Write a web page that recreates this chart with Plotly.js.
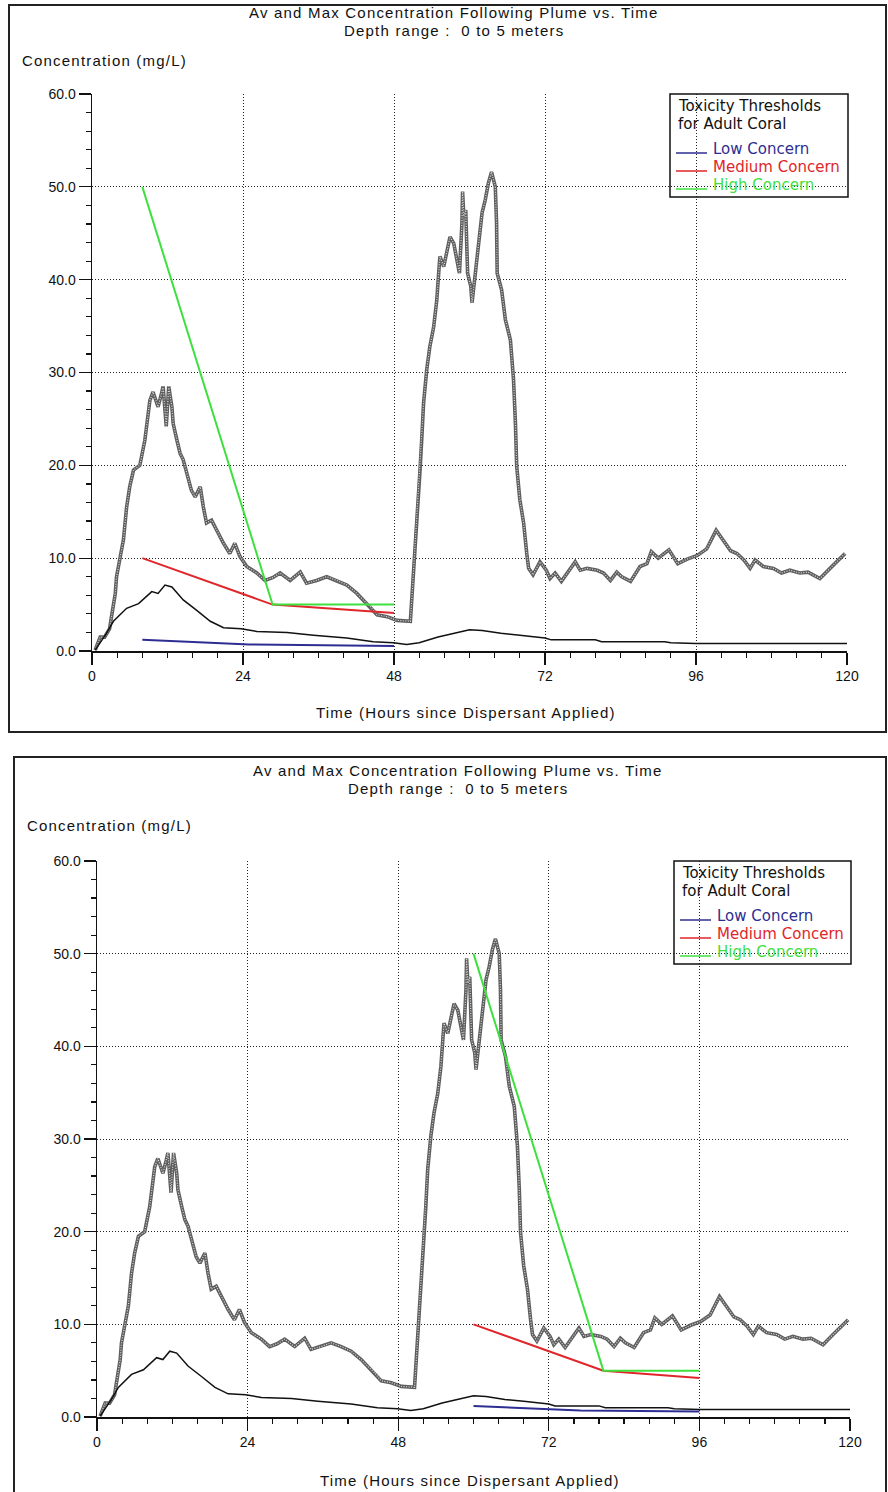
<!DOCTYPE html>
<html>
<head>
<meta charset="utf-8">
<script src="https://cdn.plot.ly/plotly-3.0.1.min.js"></script>
<style>html,body{margin:0;padding:0;background:#fff;}#chart{width:888px;height:1492px;}</style>
</head>
<body>
<div id="chart"></div>
<script>
// ---------- data ----------
const maxTime = [0.5,1.3,2.0,2.8,3.1,3.7,3.9,4.5,5.0,5.5,6.0,6.6,7.6,8.4,9.2,9.7,10.5,11.0,11.3,11.8,12.2,12.7,12.9,13.5,14.0,14.5,15.1,15.8,16.4,17.2,17.7,18.2,19.0,19.8,20.9,21.9,22.7,23.5,24.6,26.2,27.5,28.7,29.9,31.5,33.1,34.1,35.7,37.3,38.9,40.5,42.1,43.1,44.2,45.3,46.9,48.5,50.6,50.8,51.1,51.3,51.6,52.1,52.4,52.7,53.2,53.7,54.3,54.8,55.1,55.3,55.9,56.4,56.9,57.5,58.0,58.4,58.8,58.9,59.1,59.4,59.7,60.2,60.4,60.9,61.4,62.0,62.5,63.0,63.5,64.1,64.3,64.4,65.1,65.7,66.5,67.0,67.3,67.5,68.0,68.6,69.1,69.4,70.1,71.2,72.2,72.8,73.6,74.6,76.8,77.6,78.7,80.3,81.3,82.4,83.4,84.2,85.6,87.1,88.2,88.9,90.0,91.7,93.1,94.6,96.2,97.7,99.2,100.2,101.5,102.5,103.6,104.6,105.4,106.7,108.3,109.6,110.9,112.5,113.8,114.6,115.7,117.3,118.4,119.7];
const maxConc = [0.1,1.5,1.5,2.4,3.7,6.2,8.0,10.2,12.0,15.5,17.7,19.5,20.0,22.7,27.0,27.9,26.3,27.6,28.5,24.2,28.5,26.3,24.5,22.7,21.3,20.6,19.1,17.3,16.6,17.7,15.5,13.8,14.1,13.0,11.6,10.5,11.6,10.2,9.1,8.4,7.6,7.9,8.4,7.6,8.5,7.3,7.6,8.0,7.6,7.1,6.2,5.5,4.8,3.9,3.7,3.3,3.2,5.2,8.4,11.3,13.8,19.1,22.7,26.7,30.3,32.8,34.9,37.8,40.7,42.5,41.4,43.2,44.6,43.9,42.1,40.7,46.1,49.5,46.8,47.5,40.7,39.3,37.5,40.4,43.2,47.2,48.6,50.4,51.6,50.0,46.1,40.7,38.9,35.7,33.5,29.2,24.5,19.9,16.3,13.8,10.5,8.9,8.2,9.6,8.7,7.8,8.4,7.5,9.6,8.7,8.9,8.7,8.4,7.6,8.5,8.0,7.5,9.1,9.4,10.7,10.0,10.9,9.4,9.9,10.3,11.0,13.0,12.1,10.8,10.5,9.8,8.9,9.8,9.1,8.9,8.4,8.7,8.4,8.5,8.2,7.8,8.9,9.6,10.5];

const avgTime = [0.5,2.3,3.4,5.5,7.4,9.5,10.5,11.6,12.7,14.5,16.6,18.8,20.9,23.7,26.2,31,35.2,40.5,44.7,47.9,50.0,52,55,58,60,62,65,68,72,73,80,81,91,92,96,120];
const avgConc = [0.1,1.9,3.2,4.6,5.1,6.4,6.2,7.1,6.9,5.5,4.4,3.2,2.5,2.4,2.1,2.0,1.7,1.4,1.0,0.9,0.7,0.9,1.5,2.0,2.3,2.2,1.9,1.7,1.4,1.2,1.2,1.0,1.0,0.9,0.8,0.8];

// thresholds, panel 1 (exposure starting at hour 8)
const lowTime1 = [8,11,18,25,48];
const lowConc1 = [1.2,1.1,0.9,0.7,0.55];
const medTime1 = [8,28.7,48];
const medConc1 = [10,5,4.1];
const highTime1 = [8,28.7,48];
const highConc1 = [50,5,5];
// thresholds, panel 2 (exposure starting at hour 60)
const lowTime2 = [60,63,70,77,96];
const lowConc2 = [1.2,1.1,0.9,0.7,0.6];
const medTime2 = [60,80.7,96];
const medConc2 = [10,5,4.2];
const highTime2 = [60,80.7,96];
const highConc2 = [50,5,5];

const xTicks = [0,24,48,72,96,120];
const yTicks = [0,10,20,30,40,50,60];
const yTickText = yTicks.map(v => v.toFixed(1));

const titleLine1 = "Av and Max Concentration Following Plume vs. Time";
const titleLine2 = "Depth range :  0 to 5 meters";
const yTitle = "Concentration (mg/L)";
const xTitle = "Time (Hours since Dispersant Applied)";
const legendHead = ["Toxicity Thresholds", "for Adult Coral"];
const legendNames = ["Low Concern", "Medium Concern", "High Concern"];

// ---------- layout helpers ----------
const W = 888, H = 1492;
const PX = x => x / W;
const PY = y => 1 - y / H;
const COLORS = { low: '#2e2e92', med: '#e0262a', high: '#3ee03e' };
const TITLE_FONT = { family: 'Liberation Sans, Arial, sans-serif', size: 15, color: '#111' };
const LEG_FONT = { family: 'DejaVu Sans, Verdana, sans-serif', size: 15 };
const sp = t => '<span style="letter-spacing:1.2px">' + t + '</span>';

const panels = [
  { frameL: 9, frameT: 5, frameB: 732, ax0: 92, ax1: 847, ayTop: 94, ayBot: 651,
    t1: 13, t2: 30, yl: 60, ylx: 20, xl: 713, xlx: 466, tx: 454, lx: 670, lr: 848, ly: 94,
    low: [lowTime1, lowConc1], med: [medTime1, medConc1], high: [highTime1, highConc1] },
  { frameL: 14, frameT: 757, frameB: 1500, ax0: 97, ax1: 850, ayTop: 861, ayBot: 1417,
    t1: 771, t2: 788, yl: 825, ylx: 25, xl: 1480, xlx: 470, tx: 458, lx: 674, lr: 851, ly: 861,
    low: [lowTime2, lowConc2], med: [medTime2, medConc2], high: [highTime2, highConc2] }
];

const data = [];
const layout = {
  width: W, height: H, margin: { l: 0, r: 0, t: 0, b: 0 },
  paper_bgcolor: '#fff', plot_bgcolor: 'rgba(0,0,0,0)',
  showlegend: false, annotations: [], shapes: []
};

panels.forEach((p, i) => {
  const n = i === 0 ? '' : '2';
  const xa = 'x' + n, ya = 'y' + n;

  const axisCommon = {
    tickmode: 'array', ticks: 'outside', ticklen: 12, tickwidth: 1.2, tickcolor: '#111',
    showgrid: true, gridcolor: '#222', griddash: '1px,2px', gridwidth: 1,
    showline: true, linecolor: '#111', linewidth: 1.5, zeroline: false,
    tickfont: { family: 'Liberation Sans, Arial, sans-serif', size: 14, color: '#111' },
    fixedrange: true
  };
  layout['xaxis' + n] = Object.assign({}, axisCommon, {
    domain: [PX(p.ax0), PX(p.ax1)], anchor: ya, range: [0, 120],
    tickvals: xTicks, ticktext: xTicks.map(String),
    minor: { dtick: 4, tick0: 0, ticks: 'outside', ticklen: 5, tickwidth: 1.2, tickcolor: '#111', showgrid: false }
  });
  layout['yaxis' + n] = Object.assign({}, axisCommon, {
    domain: [PY(p.ayBot), PY(p.ayTop)], anchor: xa, range: [0, 60],
    tickvals: yTicks, ticktext: yTickText,
    minor: { dtick: 2, tick0: 0, ticks: 'outside', ticklen: 5, tickwidth: 1.2, tickcolor: '#111', showgrid: false }
  });

  // max concentration: thick grey textured line
  data.push({ x: maxTime, y: maxConc, xaxis: xa, yaxis: ya, type: 'scatter', mode: 'lines',
    line: { color: '#5e5e5e', width: 3.6 }, hoverinfo: 'skip' });
  data.push({ x: maxTime, y: maxConc, xaxis: xa, yaxis: ya, type: 'scatter', mode: 'lines',
    line: { color: '#dcdcdc', width: 1.2, dash: '1px,1.5px' }, hoverinfo: 'skip' });
  // average concentration
  data.push({ x: avgTime, y: avgConc, xaxis: xa, yaxis: ya, type: 'scatter', mode: 'lines',
    line: { color: '#111', width: 1.5 }, hoverinfo: 'skip' });
  // thresholds
  data.push({ x: p.low[0], y: p.low[1], xaxis: xa, yaxis: ya, type: 'scatter', mode: 'lines',
    line: { color: COLORS.low, width: 2 }, hoverinfo: 'skip' });
  data.push({ x: p.med[0], y: p.med[1], xaxis: xa, yaxis: ya, type: 'scatter', mode: 'lines',
    line: { color: COLORS.med, width: 2 }, hoverinfo: 'skip' });
  data.push({ x: p.high[0], y: p.high[1], xaxis: xa, yaxis: ya, type: 'scatter', mode: 'lines',
    line: { color: COLORS.high, width: 2 }, hoverinfo: 'skip' });

  // frame
  layout.shapes.push({ type: 'rect', xref: 'paper', yref: 'paper',
    x0: PX(p.frameL), x1: PX(886), y0: PY(p.frameB), y1: PY(p.frameT),
    line: { color: '#222', width: 2 }, fillcolor: 'rgba(0,0,0,0)', layer: 'below' });

  const ann = (text, x, y, font, xanchor) => layout.annotations.push({
    text, x: PX(x), y: PY(y), xref: 'paper', yref: 'paper', showarrow: false,
    xanchor: xanchor || 'center', yanchor: 'middle', font });
  ann(sp(titleLine1), p.tx, p.t1, TITLE_FONT);
  ann(sp(titleLine2), p.tx, p.t2, TITLE_FONT);
  ann(sp(yTitle), p.ylx, p.yl, TITLE_FONT, 'left');
  ann(sp(xTitle), p.xlx, p.xl, TITLE_FONT);

  // legend box (transparent, grid shows through)
  const lx = p.lx, ly = p.ly;
  layout.shapes.push({ type: 'rect', xref: 'paper', yref: 'paper',
    x0: PX(lx), x1: PX(p.lr), y0: PY(ly + 103), y1: PY(ly),
    line: { color: '#111', width: 1.5 }, fillcolor: 'rgba(0,0,0,0)' });
  ann(legendHead[0], lx + 6, ly + 12, Object.assign({ color: '#111' }, LEG_FONT), 'left');
  ann(legendHead[1], lx + 6, ly + 30, Object.assign({ color: '#111' }, LEG_FONT), 'left');
  const legCols = [COLORS.low, COLORS.med, COLORS.high];
  legendNames.forEach((nm, k) => {
    const ty = ly + 55 + 18 * k;
    layout.shapes.push({ type: 'line', xref: 'paper', yref: 'paper',
      x0: PX(lx + 6), x1: PX(lx + 37), y0: PY(ty + 4), y1: PY(ty + 4),
      line: { color: legCols[k], width: 1.5 } });
    ann(nm, lx + 41, ty, Object.assign({}, LEG_FONT, { color: legCols[k] }), 'left');
  });
});

Plotly.newPlot('chart', data, layout, { staticPlot: true, displayModeBar: false });
</script>
</body>
</html>
